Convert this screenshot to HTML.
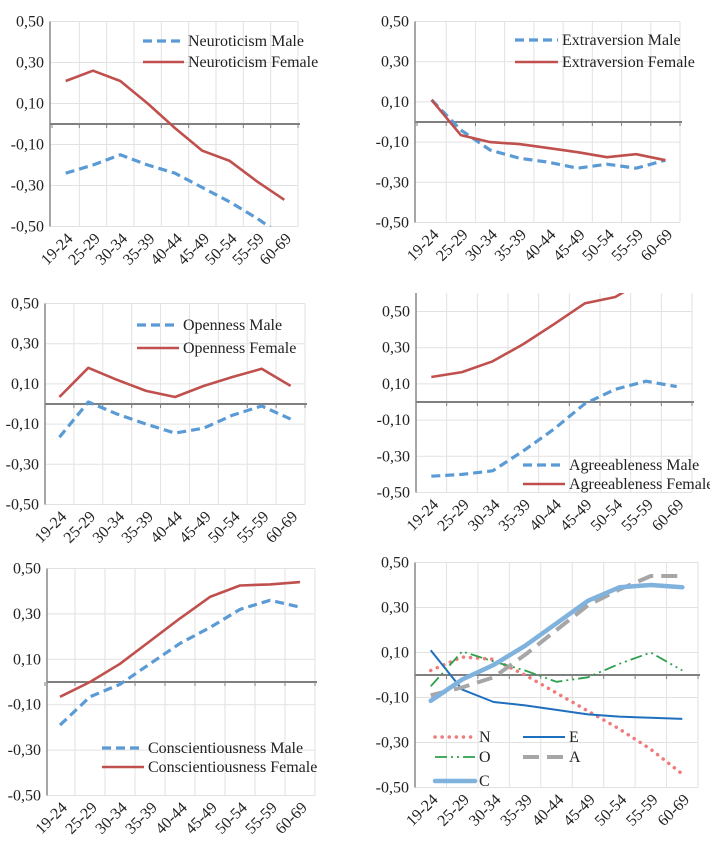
<!DOCTYPE html>
<html><head><meta charset="utf-8">
<style>
html,body{margin:0;padding:0;background:#fff;font-family:"Liberation Serif","DejaVu Serif",serif;}
svg{display:block;}
svg text{font-family:"Liberation Serif","DejaVu Serif",serif !important;}
</style></head>
<body>
<svg id="chart" width="710" height="851" viewBox="0 0 710 851" xmlns="http://www.w3.org/2000/svg"></svg>
<script>
const categories = ["19-24","25-29","30-34","35-39","40-44","45-49","50-54","55-59","60-69"];
const yTickLabels = ["0,50","0,30","0,10","-0,10","-0,30","-0,50"];
const yTickValues = [0.5,0.3,0.1,-0.1,-0.3,-0.5];

const neuroMale = [-0.24,-0.20,-0.15,-0.20,-0.24,-0.31,-0.38,-0.46,-0.55];
const neuroFemale = [0.21,0.26,0.21,0.10,-0.02,-0.13,-0.18,-0.28,-0.37];
const extraMale = [0.11,-0.04,-0.14,-0.18,-0.20,-0.23,-0.21,-0.23,-0.19];
const extraFemale = [0.11,-0.065,-0.10,-0.11,-0.13,-0.15,-0.175,-0.16,-0.19];
const openMale = [-0.165,0.01,-0.05,-0.10,-0.145,-0.12,-0.055,-0.01,-0.075];
const openFemale = [0.035,0.18,0.12,0.065,0.035,0.09,0.135,0.175,0.09];
const agreeMale = [-0.41,-0.40,-0.38,-0.27,-0.15,-0.01,0.07,0.115,0.085];
const agreeFemale = [0.138,0.165,0.225,0.32,0.43,0.545,0.58,0.68,0.70];
const consMale = [-0.19,-0.065,-0.01,0.08,0.17,0.24,0.32,0.36,0.33];
const consFemale = [-0.065,0.0,0.08,0.18,0.28,0.375,0.425,0.43,0.44];
const allN = [0.02,0.08,0.07,0.0,-0.08,-0.16,-0.24,-0.33,-0.44];
const allE = [0.11,-0.065,-0.12,-0.135,-0.155,-0.175,-0.185,-0.19,-0.195];
const allO = [-0.05,0.105,0.06,0.02,-0.03,-0.01,0.05,0.10,0.02];
const allA = [-0.09,-0.055,-0.01,0.09,0.20,0.31,0.38,0.44,0.44];
const allC = [-0.115,-0.02,0.045,0.13,0.23,0.33,0.39,0.40,0.39];

const NS="http://www.w3.org/2000/svg";
const svg=document.getElementById('chart');
function mk(tag,attrs,parent){const e=document.createElementNS(NS,tag);for(const k in attrs)e.setAttribute(k,attrs[k]);(parent||svg).appendChild(e);return e;}

const MALE={stroke:"#5b9bd5",width:3.2,dash:"9,5"};
const FEMALE={stroke:"#c0504d",width:2.6,dash:""};

function panel(p){
  const g=mk('g',{});
  
  
  const x0=p.left,x1=p.right,cw=(x1-x0)/categories.length;
  const yScale=v=>p.zeroY-(v/0.1)*p.unit;
  const xScale=i=>x0+cw*(i+0.5);
  const top=p.top!==undefined?p.top:yScale(0.5);
  const bottom=yScale(-0.5);
  yTickValues.forEach((v,i)=>{
    const y=yScale(v);
    const gl=mk('line',{x1:p.axisX,x2:x1,y1:y,y2:y,stroke:"#e2e2e2","stroke-width":1},g);
    
    
    const t=mk('text',{x:p.axisX-6,y:y+5,"text-anchor":"end","font-size":16,fill:"#222"},g);
    t.textContent=yTickLabels[i];
    
    
  });
  for(let i=1;i<=categories.length;i++){
    const x=x0+cw*i;
    const vl=mk('line',{x1:x,x2:x,y1:top,y2:bottom,stroke:"#e2e2e2","stroke-width":1},g);
    
    
  }
  const ya=mk('line',{x1:p.axisX,x2:p.axisX,y1:top,y2:bottom,stroke:"#888","stroke-width":1.5},g);
  
  
  const z=yScale(0);
  const zl=mk('line',{x1:p.axisX,x2:x1+2,y1:z,y2:z,stroke:"#808080","stroke-width":2},g);
  
  
  for(let i=0;i<=categories.length;i++){
    const x=x0+cw*i;
    const tk=mk('line',{x1:x,x2:x,y1:z,y2:z+4,stroke:"#808080","stroke-width":1},g);
    
    
  }
  categories.forEach((c,i)=>{
    const ax=xScale(i)+8, ay=bottom+13;
    const t=mk('text',{x:ax,y:ay,"text-anchor":"end","font-size":16,fill:"#222",transform:`rotate(-45 ${ax} ${ay})`},g);
    t.textContent=c;
    
    
  });
  const cid='clip'+p.name;
  const cp=mk('clipPath',{id:cid},g);
  mk('rect',{x:p.axisX,y:top,width:x1-p.axisX+3,height:bottom-top},cp);
  const sg=mk('g',{"clip-path":`url(#${cid})`},g);
  p.series.forEach(s=>{
    const d=s.values.map((v,i)=>(i?'L':'M')+xScale(i).toFixed(1)+','+yScale(v).toFixed(1)).join(' ');
    const path=mk('path',{d:d,fill:"none",stroke:s.style.stroke,"stroke-width":s.style.width,"stroke-linejoin":"round","stroke-linecap":s.style.cap||"butt"},sg);
    if(s.style.dash)path.setAttribute('stroke-dasharray',s.style.dash);
    
    
  });
  p.legend.forEach(l=>{
    const s=p.series[l.idx];
    const ln=mk('line',{x1:l.x,x2:l.x+l.len,y1:l.y,y2:l.y,stroke:s.style.stroke,"stroke-width":s.style.width,"stroke-linecap":s.style.cap||"butt"},g);
    if(s.style.dash)ln.setAttribute('stroke-dasharray',s.style.dash);
    
    
    const t=mk('text',{x:l.x+l.len+4,y:l.y+5,"font-size":16,fill:"#222"},g);
    t.textContent=s.label;
    
    
  });
}

panel({name:'neuroticism-chart',axisX:50,left:52,right:298,zeroY:124,unit:20.5,
  series:[{id:'neuroticism-male',label:'Neuroticism Male',values:neuroMale,style:MALE},
          {id:'neuroticism-female',label:'Neuroticism Female',values:neuroFemale,style:FEMALE}],
  legend:[{idx:0,x:143,y:41,len:41},{idx:1,x:143,y:62,len:41}]});

panel({name:'extraversion-chart',axisX:415,left:417,right:680,zeroY:122,unit:20.1,
  series:[{id:'extraversion-male',label:'Extraversion Male',values:extraMale,style:MALE},
          {id:'extraversion-female',label:'Extraversion Female',values:extraFemale,style:FEMALE}],
  legend:[{idx:0,x:515,y:40,len:43},{idx:1,x:515,y:62,len:43}]});

panel({name:'openness-chart',axisX:45,left:45,right:305,zeroY:404,unit:20.1,
  series:[{id:'openness-male',label:'Openness Male',values:openMale,style:MALE},
          {id:'openness-female',label:'Openness Female',values:openFemale,style:FEMALE}],
  legend:[{idx:0,x:137,y:325,len:42},{idx:1,x:137,y:348,len:42}]});

panel({name:'agreeableness-chart',axisX:416,left:416,right:692,zeroY:402,unit:18.1,top:293,
  series:[{id:'agreeableness-male',label:'Agreeableness Male',values:agreeMale,style:MALE},
          {id:'agreeableness-female',label:'Agreeableness Female',values:agreeFemale,style:FEMALE}],
  legend:[{idx:0,x:523,y:465,len:42},{idx:1,x:523,y:484,len:42}]});

panel({name:'conscientiousness-chart',axisX:47,left:45,right:315,zeroY:682,unit:22.7,
  series:[{id:'conscientiousness-male',label:'Conscientiousness Male',values:consMale,style:MALE},
          {id:'conscientiousness-female',label:'Conscientiousness Female',values:consFemale,style:FEMALE}],
  legend:[{idx:0,x:102,y:748,len:42},{idx:1,x:102,y:767,len:42}]});

panel({name:'all-traits-chart',axisX:415,left:415,right:698,zeroY:675,unit:22.5,
  series:[{id:'n',label:'N',values:allN,style:{stroke:"#f07b7b",width:3.5,dash:"0.1,7",cap:"round"}},
          {id:'e',label:'E',values:allE,style:{stroke:"#1f6fbf",width:2,dash:""}},
          {id:'o',label:'O',values:allO,style:{stroke:"#2ca04c",width:1.8,dash:"12,4,2,4,2,4"}},
          {id:'a',label:'A',values:allA,style:{stroke:"#a6a6a6",width:4,dash:"16,8"}},
          {id:'c',label:'C',values:allC,style:{stroke:"#7fb2dd",width:4.5,dash:"",cap:"round"}}],
  legend:[{idx:0,x:435,y:737,len:40},{idx:1,x:523,y:737,len:42},{idx:2,x:435,y:757,len:40},{idx:3,x:523,y:757,len:42},{idx:4,x:435,y:781,len:40}]});
</script>
</body></html>
